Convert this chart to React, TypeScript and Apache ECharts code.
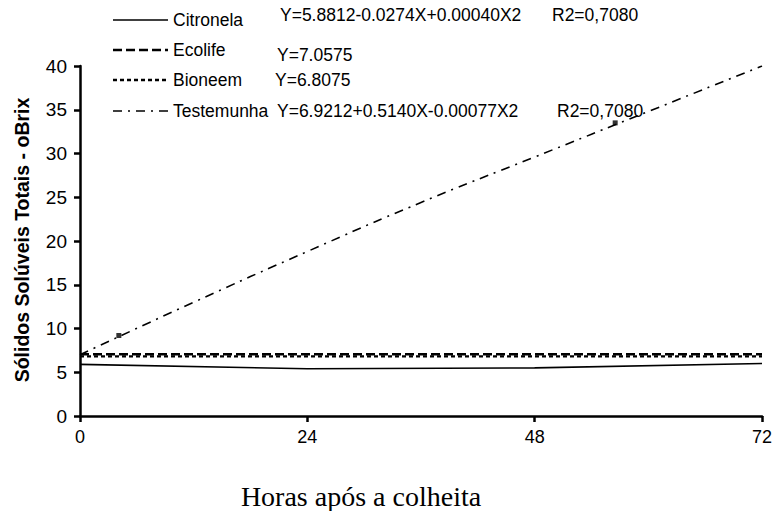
import React, { useEffect, useRef } from "react";
import * as echarts from "echarts";

const hours = [0, 24, 48, 72];
const citronela = [5.9, 5.4, 5.5, 6.0];
const ecolife = [7.06, 7.06, 7.06, 7.06];
const bioneem = [6.81, 6.81, 6.81, 6.81];
const testemunhaHours = [0, 12, 24, 36, 48, 60, 72];
const testemunha = [7.0, 13.0, 18.8, 24.4, 29.6, 34.8, 40.0];
const markerPoints: [number, number][] = [[4.1, 9.2], [56.5, 33.5]];
const xTicks = { min: 0, max: 72, interval: 24 };
const yTicks = { min: 0, max: 40, interval: 5 };

const legendNames = ["Citronela", "Ecolife", "Bioneem", "Testemunha"];
const legendEquations = [
  "Y=5.8812-0.0274X+0.00040X2",
  "Y=7.0575",
  "Y=6.8075",
  "Y=6.9212+0.5140X-0.00077X2",
];
const legendR2 = ["R2=0,7080", "", "", "R2=0,7080"];

const yTitle = "Sólidos Solúveis Totais - oBrix";
const xTitle = "Horas após a colheita";

const SANS = "'Liberation Sans', Arial, sans-serif";
const SERIF = "'Liberation Serif', 'Times New Roman', serif";

const lineTypes: any[] = ["solid", [9, 4], [4, 3], [9, 6, 2, 6]];
const lineWidths = [1.6, 2.4, 2.4, 1.6];

export default function App() {
  const ref = useRef<HTMLDivElement>(null);
  useEffect(() => {
    if (!ref.current) return;
    const chart = echarts.init(ref.current, null, { renderer: "svg" });

    const rowY = [20, 50, 80, 111];
    const eqY = [15, 55, 80, 111];
    const eqX = [280, 277, 275, 277];
    const graphics: any[] = [];
    legendNames.forEach((name, i) => {
      graphics.push({
        type: "line",
        shape: { x1: 113, y1: rowY[i], x2: 168, y2: rowY[i] },
        style: { stroke: "#000", lineWidth: lineWidths[i], lineDash: i === 0 ? null : lineTypes[i] },
      });
      graphics.push({
        type: "text",
        x: 173,
        y: rowY[i],
        style: { text: name, font: `17.5px ${SANS}`, fill: "#000", textVerticalAlign: "middle" },
      });
      graphics.push({
        type: "text",
        x: eqX[i],
        y: eqY[i],
        style: { text: legendEquations[i], font: `17.5px ${SANS}`, fill: "#000", textVerticalAlign: "middle" },
      });
      if (legendR2[i]) {
        graphics.push({
          type: "text",
          x: i === 0 ? 552 : 557,
          y: eqY[i],
          style: { text: legendR2[i], font: `17.5px ${SANS}`, fill: "#000", textVerticalAlign: "middle" },
        });
      }
    });
    graphics.push({
      type: "text",
      x: 22,
      y: 240,
      rotation: Math.PI / 2,
      style: {
        text: yTitle,
        font: `bold 19.5px ${SANS}`,
        fill: "#000",
        textAlign: "center",
        textVerticalAlign: "middle",
      },
    });
    graphics.push({
      type: "text",
      x: 361,
      y: 496,
      style: { text: xTitle, font: `28px ${SERIF}`, fill: "#000", textAlign: "center", textVerticalAlign: "middle" },
    });

    const mk = (name: string, xs: number[], ys: number[], i: number, smooth = false) => ({
      name,
      type: "line",
      data: xs.map((x, k) => [x, ys[k]]),
      smooth,
      showSymbol: false,
      symbol: "none",
      lineStyle: { color: "#000", width: lineWidths[i], type: lineTypes[i] },
      z: 3,
    });

    chart.setOption({
      animation: false,
      backgroundColor: "#fff",
      grid: { left: 80, right: 14, top: 66, bottom: 95 },
      xAxis: {
        type: "value",
        min: xTicks.min,
        max: xTicks.max,
        interval: xTicks.interval,
        axisLine: { lineStyle: { color: "#000", width: 2.5 } },
        axisTick: { show: true, inside: false, length: 6, lineStyle: { color: "#000", width: 2.5 } },
        axisLabel: { color: "#000", fontSize: 18, fontFamily: SANS, margin: 12 },
        splitLine: { show: false },
      },
      yAxis: {
        type: "value",
        min: yTicks.min,
        max: yTicks.max,
        interval: yTicks.interval,
        axisLine: { show: true, lineStyle: { color: "#000", width: 2.5 } },
        axisTick: { show: true, inside: false, length: 6, lineStyle: { color: "#000", width: 2.5 } },
        axisLabel: { color: "#000", fontSize: 19, fontFamily: SANS, margin: 13 },
        splitLine: { show: false },
      },
      graphic: graphics,
      series: [
        mk("Citronela", hours, citronela, 0),
        mk("Ecolife", hours, ecolife, 1),
        mk("Bioneem", hours, bioneem, 2),
        mk("Testemunha", testemunhaHours, testemunha, 3, true),
        {
          name: "pontos",
          type: "scatter",
          data: markerPoints,
          symbol: "rect",
          symbolSize: 5,
          itemStyle: { color: "#000" },
          z: 4,
        },
      ],
    });
    return () => chart.dispose();
  }, []);
  return (
    <div style={{ position: "fixed", left: 0, top: 0, width: 776, height: 511, background: "#fff" }}>
      <div ref={ref} style={{ width: 776, height: 511 }} />
    </div>
  );
}
